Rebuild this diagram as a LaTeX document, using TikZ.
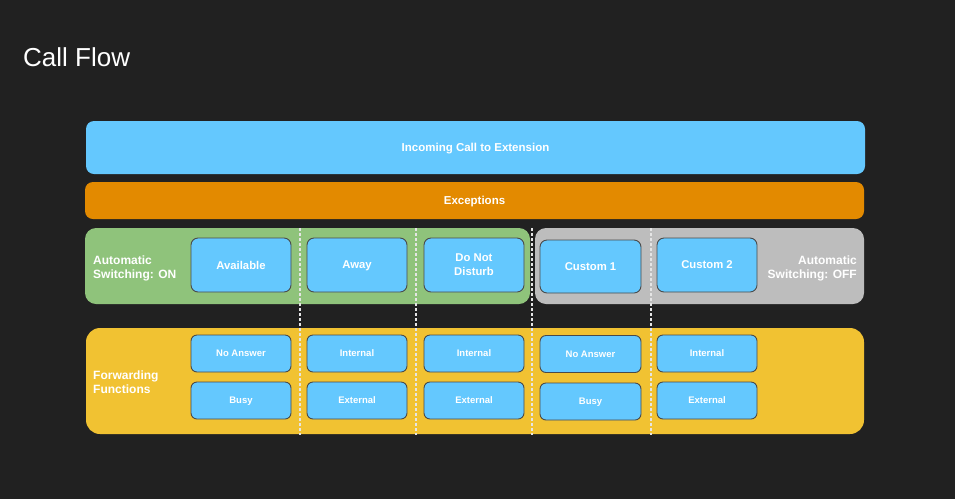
\documentclass[tikz,border=0pt]{standalone}
\usepackage{fontspec}
\setmainfont{Liberation Sans}
\definecolor{bgc}{HTML}{212121}
\definecolor{bluec}{HTML}{64C8FE}
\definecolor{orangec}{HTML}{E38A00}
\definecolor{greenc}{HTML}{8FC37B}
\definecolor{grayc}{HTML}{BDBDBD}
\definecolor{yellowc}{HTML}{F1C232}
\definecolor{edgec}{HTML}{4A4A4A}
\tikzset{
  bar/.style={rounded corners=8pt, inner sep=0pt, text=white, text depth=0pt,
    font=\bfseries\fontsize{11.5}{13}\selectfont},
  panel/.style={rounded corners=11pt, inner sep=0pt},
  bigbox/.style={fill=bluec, draw=edgec, line width=0.9pt, rounded corners=7pt,
    minimum width=100pt, minimum height=54pt, inner sep=0pt, text=white, align=center,
    text depth=0pt, font=\bfseries\fontsize{11.3}{14}\selectfont},
  smallbox/.style={fill=bluec, draw=edgec, line width=0.9pt, rounded corners=6pt,
    minimum width=100pt, minimum height=37pt, inner sep=0pt, text=white, text depth=0pt,
    font=\bfseries\fontsize{9.5}{11}\selectfont},
  lbl/.style={text=white, font=\bfseries\fontsize{12}{14}\selectfont, inner sep=0pt, text depth=0pt},
  sep/.style={draw=white!90!black, line width=1.2pt, dash pattern=on 3pt off 2pt}
}
\begin{document}
\begin{tikzpicture}[x=1pt,y=-1pt]
\fill[bgc] (0,0) rectangle (955,499);
\useasboundingbox (0,0) rectangle (955,499);

\node[anchor=base west, text=white, font=\fontsize{26}{30}\selectfont, inner sep=0pt] (title) at (23,66) {Call Flow};

\node[bar, fill=bluec, minimum width=779pt, minimum height=53pt] (incoming) at (475.5,147.5) {Incoming Call to Extension};
\node[bar, fill=orangec, minimum width=779pt, minimum height=37pt] (exceptions) at (474.5,200.5) {Exceptions};

\node[panel, fill=greenc, minimum width=445pt, minimum height=76pt] (green) at (307.5,266) {};
\node[panel, fill=grayc, minimum width=329pt, minimum height=76pt] (gray) at (699.5,266) {};
\node[panel, fill=yellowc, minimum width=778pt, minimum height=106pt, rounded corners=14pt] (yellow) at (475,381) {};

\node[lbl, anchor=west, align=left] (autoon) at (93,267) {Automatic\\Switching: ON};
\node[lbl, anchor=east, align=right] (autooff) at (857,267) {Automatic\\Switching: OFF};
\node[lbl, anchor=west, align=left] (fwd) at (93,382) {Forwarding\\Functions};

\coordinate (d1t) at (300,228); \coordinate (d1b) at (300,435);
\coordinate (d2t) at (416,228); \coordinate (d2b) at (416,435);
\coordinate (d3t) at (532,228); \coordinate (d3b) at (532,435);
\coordinate (d4t) at (651,228); \coordinate (d4b) at (651,435);
\draw[sep] (d1t) -- (d1b);
\draw[sep] (d2t) -- (d2b);
\draw[sep] (d3t) -- (d3b);
\draw[sep] (d4t) -- (d4b);

\node[bigbox] (available) at (241,265) {Available};
\node[bigbox] (away) at (357,265) {Away};
\node[bigbox] (dnd) at (474,265) {Do Not\\Disturb};
\node[bigbox, minimum width=101pt, minimum height=53pt] (custom1) at (590.5,266.5) {Custom 1};
\node[bigbox] (custom2) at (707,265) {Custom 2};

\node[smallbox] (noans1) at (241,353.5) {No Answer};
\node[smallbox] (busy1) at (241,400.5) {Busy};
\node[smallbox] (int1) at (357,353.5) {Internal};
\node[smallbox] (ext1) at (357,400.5) {External};
\node[smallbox] (int2) at (474,353.5) {Internal};
\node[smallbox] (ext2) at (474,400.5) {External};
\node[smallbox, minimum width=101pt] (noans2) at (590.5,354) {No Answer};
\node[smallbox, minimum width=101pt] (busy2) at (590.5,401.5) {Busy};
\node[smallbox] (int3) at (707,353.5) {Internal};
\node[smallbox] (ext3) at (707,400.5) {External};
\end{tikzpicture}
\end{document}
